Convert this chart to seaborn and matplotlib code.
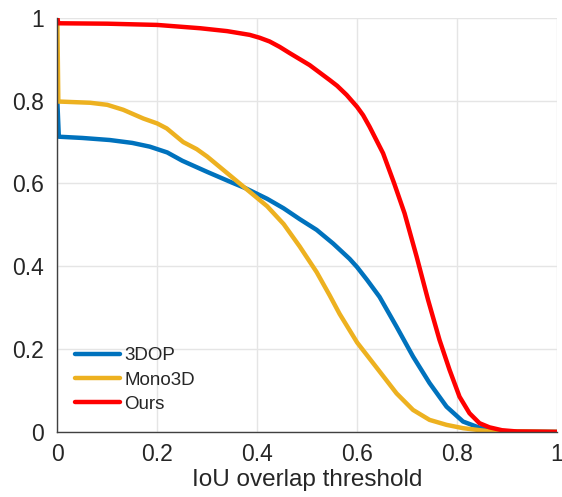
import pandas as pd
import matplotlib
matplotlib.use("Agg")
import matplotlib.pyplot as plt
import matplotlib.ticker as mticker
import seaborn as sns

# Recall vs IoU overlap threshold
x_3dop = [0.0, 0.003, 0.05, 0.105, 0.15, 0.185, 0.22, 0.25, 0.3, 0.35, 0.376,
          0.42, 0.453, 0.485, 0.519, 0.552, 0.585, 0.6, 0.62, 0.645, 0.679,
          0.712, 0.745, 0.779, 0.812, 0.845, 0.875, 1.0]
y_3dop = [0.80, 0.713, 0.71, 0.705, 0.698, 0.689, 0.675, 0.655, 0.628, 0.602,
          0.589, 0.563, 0.540, 0.514, 0.488, 0.455, 0.418, 0.398, 0.367, 0.326,
          0.254, 0.182, 0.118, 0.061, 0.025, 0.01, 0.002, 0.0]

x_mono = [0.0, 0.002, 0.066, 0.10, 0.132, 0.172, 0.2, 0.219, 0.252, 0.279,
          0.3, 0.34, 0.376, 0.42, 0.453, 0.485, 0.519, 0.545, 0.565, 0.6,
          0.645, 0.679, 0.712, 0.745, 0.779, 0.812, 0.86, 1.0]
y_mono = [1.0, 0.798, 0.795, 0.79, 0.778, 0.757, 0.745, 0.733, 0.700, 0.683,
          0.665, 0.625, 0.589, 0.545, 0.502, 0.448, 0.386, 0.33, 0.285, 0.216,
          0.146, 0.093, 0.053, 0.029, 0.017, 0.009, 0.002, 0.0]

x_ours = [0.0, 0.002, 0.1, 0.2, 0.286, 0.34, 0.385, 0.405, 0.425, 0.445, 0.465,
          0.505, 0.545, 0.56, 0.579, 0.60, 0.612, 0.625, 0.652, 0.674, 0.695,
          0.719, 0.742, 0.765, 0.785, 0.805, 0.825, 0.845, 0.865, 0.89, 0.92,
          1.0]
y_ours = [1.0, 0.987, 0.986, 0.983, 0.975, 0.968, 0.959, 0.952, 0.943, 0.930,
          0.915, 0.886, 0.850, 0.836, 0.814, 0.785, 0.765, 0.737, 0.673, 0.601,
          0.528, 0.424, 0.319, 0.222, 0.150, 0.085, 0.045, 0.021, 0.011, 0.004,
          0.001, 0.0]

methods = ["3DOP", "Mono3D", "Ours"]
colors = {"3DOP": "#0072BD", "Mono3D": "#EDB120", "Ours": "#FF0000"}


def main():
    frames = []
    for name, xs, ys in zip(methods, [x_3dop, x_mono, x_ours], [y_3dop, y_mono, y_ours]):
        frames.append(pd.DataFrame({"iou": xs, "recall": ys, "method": name}))
    df = pd.concat(frames, ignore_index=True)

    sns.set_theme(style="whitegrid")
    plt.rcParams["font.family"] = ["Liberation Sans", "DejaVu Sans"]

    fig = plt.figure(figsize=(5.62, 4.97), dpi=100)
    ax = fig.add_axes([0.102, 0.131, 0.889, 0.833])

    sns.lineplot(data=df, x="iou", y="recall", hue="method", hue_order=methods,
                 palette=colors, estimator=None, sort=False, linewidth=3.2, ax=ax)

    ax.set_xlim(0, 1)
    ax.set_ylim(0, 1)
    ax.xaxis.set_major_locator(mticker.MultipleLocator(0.2))
    ax.yaxis.set_major_locator(mticker.MultipleLocator(0.2))
    fmt = mticker.FuncFormatter(lambda v, p: f"{v:g}")
    ax.xaxis.set_major_formatter(fmt)
    ax.yaxis.set_major_formatter(fmt)

    ax.grid(True, color="#e5e5e5", linewidth=1.0)
    for side in ["top", "right"]:
        ax.spines[side].set_visible(False)
    for side in ["left", "bottom"]:
        ax.spines[side].set_color("#404040")
        ax.spines[side].set_linewidth(1.0)
    ax.tick_params(axis="both", direction="in", length=4, width=0.8,
                   color="#404040", labelsize=16.5, labelcolor="#262626")
    ax.tick_params(axis="y", pad=9.5)
    ax.tick_params(axis="x", pad=8)

    ax.set_xlabel("IoU overlap threshold", fontsize=17.5, color="#262626", labelpad=2)
    ax.set_ylabel("")

    leg = ax.legend(loc="lower left", bbox_to_anchor=(0.021, 0.028), frameon=False,
                    fontsize=13.5, handlelength=2.4, handletextpad=0.2,
                    labelspacing=0.38, borderaxespad=0.0)
    for line in leg.get_lines():
        line.set_linewidth(3.2)

    fig.savefig("out.png", dpi=100)


if __name__ == "__main__":
    main()
